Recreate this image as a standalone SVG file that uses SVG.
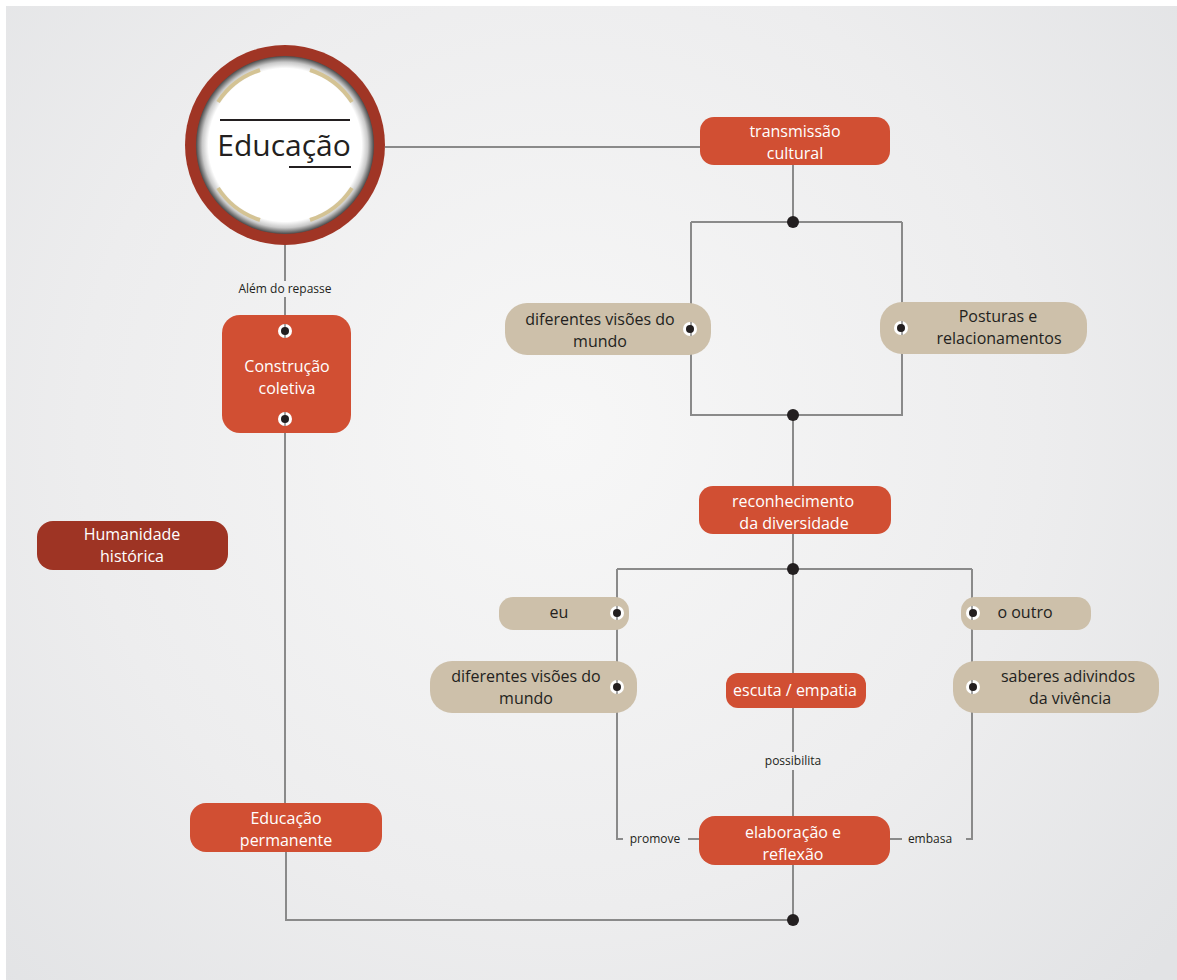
<svg xmlns="http://www.w3.org/2000/svg" width="1177" height="980" viewBox="0 0 1177 980">
<defs>
<radialGradient id="bg" cx="560" cy="430" r="800" gradientUnits="userSpaceOnUse">
<stop offset="0" stop-color="#f7f7f7"/>
<stop offset="0.6" stop-color="#ededee"/>
<stop offset="1" stop-color="#e2e3e5"/>
</radialGradient>
<radialGradient id="ring" cx="285" cy="145" r="89" gradientUnits="userSpaceOnUse">
<stop offset="0.86" stop-color="#ffffff"/>
<stop offset="0.93" stop-color="#c9c9c9"/>
<stop offset="1" stop-color="#4a4a4a"/>
</radialGradient>
<style>
.ln{fill:none;stroke:#8a8a8a;stroke-width:2}
.jd{fill:#231f20}
.red{fill:#d14f33}
.dred{fill:#9e3424}
.tan{fill:#cdc0aa}
.wt{font-family:"Open Sans","Liberation Sans",sans-serif;font-size:16px;fill:#ffffff;text-anchor:middle}
.dt{font-family:"Open Sans","Liberation Sans",sans-serif;font-size:16px;fill:#231f20;text-anchor:middle}
.sm{font-family:"Open Sans","Liberation Sans",sans-serif;font-size:12px;fill:#231f20;text-anchor:middle}
.pw{fill:#ffffff}
.pk{fill:#231f20}
.pl{stroke:#8a8a8a;stroke-width:1.5}
.arc{fill:none;stroke:#d4c394;stroke-width:4}
</style>
</defs>
<rect x="0" y="0" width="1177" height="980" fill="#ffffff"/>
<rect x="6" y="6" width="1171" height="974" fill="url(#bg)"/>

<g id="connectors">
<path class="ln" d="M385 147 H700"/>
<path class="ln" d="M793 165 V222"/>
<path class="ln" d="M691 222 H902 M691 222 V415 H902 V222"/>
<path class="ln" d="M793 415 V487"/>
<path class="ln" d="M793 534 V673"/>
<path class="ln" d="M617 569 H972"/>
<path class="ln" d="M617 569 V839 H623 M688 839 H699"/>
<path class="ln" d="M972 569 V839 H966 M890 839 H902"/>
<path class="ln" d="M793 708 V752 M793 770 V816"/>
<path class="ln" d="M793 865 V920 H286 V852"/>
<path class="ln" d="M285 245 V281 M285 297 V316"/>
<path class="ln" d="M285 433 V803"/>
<circle class="jd" cx="793" cy="222" r="6"/>
<circle class="jd" cx="793" cy="415" r="6"/>
<circle class="jd" cx="793" cy="569" r="6"/>
<circle class="jd" cx="793" cy="920" r="6"/>
<text class="sm" x="285" y="293">Além do repasse</text>
<text class="sm" x="793" y="765">possibilita</text>
<text class="sm" x="655" y="843">promove</text>
<text class="sm" x="930" y="843">embasa</text>
</g>

<g id="educacao">
<circle cx="285" cy="145" r="100" fill="#a03525"/>
<circle cx="285" cy="145" r="89" fill="url(#ring)"/>
<path class="arc" d="M218 102 A79 79 0 0 1 260 70"/>
<path class="arc" d="M310 70 A79 79 0 0 1 352 102"/>
<path class="arc" d="M218 188 A79 79 0 0 0 260 220"/>
<path class="arc" d="M310 220 A79 79 0 0 0 352 188"/>
<line x1="220" y1="120" x2="350" y2="120" stroke="#231f20" stroke-width="2"/>
<line x1="289" y1="167" x2="351" y2="167" stroke="#231f20" stroke-width="2"/>
<text x="284" y="156" font-family="'Open Sans','Liberation Sans',sans-serif" font-size="30" fill="#231f20" text-anchor="middle">Educação</text>
</g>

<g id="transmissao">
<rect class="red" x="700" y="117" width="190" height="48" rx="14"/>
<text class="wt" x="795" y="137">transmissão</text>
<text class="wt" x="795" y="159">cultural</text>
</g>

<g id="visoes1">
<rect class="tan" x="505" y="303" width="206" height="52" rx="22"/>
<text class="dt" x="600" y="325">diferentes visões do</text>
<text class="dt" x="600" y="347">mundo</text>
<circle class="pw" cx="690" cy="329" r="7"/>
<line class="pl" x1="691" y1="322" x2="691" y2="336"/>
<circle class="pk" cx="690" cy="329" r="4"/>
</g>

<g id="posturas">
<rect class="tan" x="880" y="302" width="207" height="52" rx="22"/>
<text class="dt" x="998" y="322">Posturas e</text>
<text class="dt" x="999" y="344">relacionamentos</text>
<circle class="pw" cx="901" cy="328" r="7"/>
<line class="pl" x1="902" y1="321" x2="902" y2="335"/>
<circle class="pk" cx="901" cy="328" r="4"/>
</g>

<g id="reconhecimento">
<rect class="red" x="699" y="486" width="192" height="48" rx="14"/>
<text class="wt" x="793" y="507">reconhecimento</text>
<text class="wt" x="794" y="529">da diversidade</text>
</g>

<g id="eu">
<rect class="tan" x="499" y="597" width="130" height="33" rx="14"/>
<text class="dt" x="559" y="618">eu</text>
<circle class="pw" cx="617" cy="613" r="7"/>
<line class="pl" x1="617" y1="606" x2="617" y2="620"/>
<circle class="pk" cx="617" cy="613" r="4"/>
</g>

<g id="visoes2">
<rect class="tan" x="430" y="661" width="207" height="52" rx="22"/>
<text class="dt" x="526" y="682">diferentes visões do</text>
<text class="dt" x="526" y="704">mundo</text>
<circle class="pw" cx="617" cy="687" r="7"/>
<line class="pl" x1="617" y1="680" x2="617" y2="694"/>
<circle class="pk" cx="617" cy="687" r="4"/>
</g>

<g id="escuta">
<rect class="red" x="726" y="673" width="140" height="35" rx="12"/>
<text class="wt" x="795" y="696">escuta / empatia</text>
</g>

<g id="outro">
<rect class="tan" x="961" y="597" width="130" height="33" rx="14"/>
<text class="dt" x="1025" y="618">o outro</text>
<circle class="pw" cx="973" cy="613" r="7"/>
<line class="pl" x1="972" y1="606" x2="972" y2="620"/>
<circle class="pk" cx="973" cy="613" r="4"/>
</g>

<g id="saberes">
<rect class="tan" x="953" y="661" width="206" height="52" rx="22"/>
<text class="dt" x="1068" y="682">saberes adivindos</text>
<text class="dt" x="1070" y="704">da vivência</text>
<circle class="pw" cx="973" cy="687" r="7"/>
<line class="pl" x1="972" y1="680" x2="972" y2="694"/>
<circle class="pk" cx="973" cy="687" r="4"/>
</g>

<g id="elaboracao">
<rect class="red" x="699" y="816" width="191" height="49" rx="16"/>
<text class="wt" x="793" y="838">elaboração e</text>
<text class="wt" x="793" y="860">reflexão</text>
</g>

<g id="construcao">
<rect class="red" x="222" y="315" width="129" height="118" rx="18"/>
<text class="wt" x="287" y="372">Construção</text>
<text class="wt" x="287" y="394">coletiva</text>
<circle class="pw" cx="285" cy="331" r="7"/>
<line class="pl" x1="285" y1="324" x2="285" y2="338"/>
<circle class="pk" cx="285" cy="331" r="4"/>
<circle class="pw" cx="285" cy="419" r="7"/>
<line class="pl" x1="285" y1="412" x2="285" y2="426"/>
<circle class="pk" cx="285" cy="419" r="4"/>
</g>

<g id="humanidade">
<rect class="dred" x="37" y="521" width="191" height="49" rx="16"/>
<text class="wt" x="132" y="540">Humanidade</text>
<text class="wt" x="132" y="562">histórica</text>
</g>

<g id="educacao-permanente">
<rect class="red" x="190" y="803" width="192" height="49" rx="16"/>
<text class="wt" x="286" y="824">Educação</text>
<text class="wt" x="286" y="846">permanente</text>
</g>
</svg>
